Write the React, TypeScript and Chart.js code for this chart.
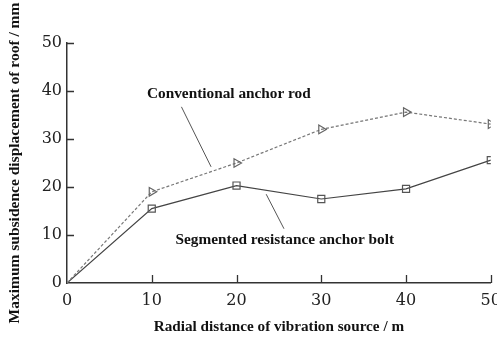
import React, { useEffect, useRef } from "react";
import { Chart, registerables } from "chart.js";

Chart.register(...registerables);

const distances = [0, 10, 20, 30, 40, 50];
const conventional = [0, 19, 25, 32, 35.6, 33.1];
const segmented = [0, 15.5, 20.3, 17.5, 19.6, 25.6];
const xTickValues = [10, 20, 30, 40, 50];
const yTickValues = [10, 20, 30, 40, 50];

const labelConventional = "Conventional anchor rod";
const labelSegmented = "Segmented resistance anchor bolt";
const xTitle = "Radial distance of vibration source / m";
const yTitle = "Maximum subsidence displacement of roof / mm";

// annotation anchors in data units
const convText = { x: 19.1, y: 39.3 };
const convLeader = [{ x: 13.5, y: 36.7 }, { x: 17.0, y: 24.2 }];
const segText = { x: 25.7, y: 9.0 };
const segLeader = [{ x: 23.5, y: 18.5 }, { x: 25.6, y: 11.3 }];

const serifBold = "bold 15.3px 'Liberation Serif', 'Times New Roman', serif";

const overlayPlugin = {
  id: "overlay",
  afterDraw(chart: any) {
    const { ctx } = chart;
    const xs = chart.scales.x;
    const ys = chart.scales.y;
    const area = chart.chartArea;
    ctx.save();
    // inward ticks
    ctx.strokeStyle = "#333";
    ctx.lineWidth = 1.3;
    ctx.beginPath();
    xTickValues.forEach((v) => {
      const px = Math.round(xs.getPixelForValue(v)) + 0.5;
      ctx.moveTo(px, area.bottom);
      ctx.lineTo(px, area.bottom - 8);
    });
    yTickValues.forEach((v) => {
      const py = Math.round(ys.getPixelForValue(v)) + 0.5;
      ctx.moveTo(area.left, py);
      ctx.lineTo(area.left + 7, py);
    });
    ctx.stroke();

    // leader lines
    ctx.strokeStyle = "#555";
    ctx.lineWidth = 1;
    ctx.beginPath();
    [convLeader, segLeader].forEach((seg) => {
      ctx.moveTo(xs.getPixelForValue(seg[0].x), ys.getPixelForValue(seg[0].y));
      ctx.lineTo(xs.getPixelForValue(seg[1].x), ys.getPixelForValue(seg[1].y));
    });
    ctx.stroke();

    // labels
    ctx.fillStyle = "#111";
    ctx.font = serifBold;
    ctx.textAlign = "center";
    ctx.textBaseline = "middle";
    ctx.fillText(labelConventional, xs.getPixelForValue(convText.x), ys.getPixelForValue(convText.y));
    ctx.fillText(labelSegmented, xs.getPixelForValue(segText.x), ys.getPixelForValue(segText.y));
    ctx.restore();
  },
};

export default function App() {
  const ref = useRef<HTMLCanvasElement | null>(null);

  useEffect(() => {
    if (!ref.current) return;
    const tickFont = { family: "'DejaVu Serif', serif", size: 16 };
    const xTitleFont = { family: "'Liberation Serif', 'Times New Roman', serif", size: 15.2, weight: "bold" as const };
    const yTitleFont = { family: "'Liberation Serif', 'Times New Roman', serif", size: 15.5, weight: "bold" as const };
    const chart = new Chart(ref.current, {
      type: "line",
      data: {
        datasets: [
          {
            label: labelConventional,
            data: distances.map((d, i) => ({ x: d, y: conventional[i] })),
            borderColor: "#777",
            backgroundColor: "rgba(255,255,255,0)",
            borderWidth: 1.2,
            borderDash: [3, 2],
            pointStyle: "triangle",
            rotation: 90,
            pointRadius: distances.map((d) => (d === 0 ? 0 : 5)),
            pointBorderColor: "#666",
            pointBorderWidth: 1.2,
            pointBackgroundColor: "rgba(255,255,255,0)",
            tension: 0,
          },
          {
            label: labelSegmented,
            data: distances.map((d, i) => ({ x: d, y: segmented[i] })),
            borderColor: "#444",
            backgroundColor: "rgba(255,255,255,0)",
            borderWidth: 1.2,
            pointStyle: "rect",
            pointRadius: distances.map((d) => (d === 0 ? 0 : 5)),
            pointBorderColor: "#555",
            pointBorderWidth: 1.2,
            pointBackgroundColor: "rgba(255,255,255,0)",
            tension: 0,
          },
        ],
      },
      options: {
        animation: false,
        responsive: true,
        maintainAspectRatio: false,
        layout: { padding: { top: 43, right: 4, bottom: 0, left: 0 } },
        plugins: { legend: { display: false }, tooltip: { enabled: false } },
        scales: {
          x: {
            type: "linear",
            min: 0,
            max: 50,
            ticks: { stepSize: 10, font: tickFont, color: "#222", padding: 8, maxRotation: 0 },
            grid: { display: false, drawTicks: false },
            border: { display: true, color: "#333", width: 1.5 },
            title: { display: true, text: xTitle, font: xTitleFont, color: "#111", padding: { top: 0, bottom: 2 } },
            afterFit: (s: any) => {
              s.height = 55;
              s.paddingLeft = 0;
              s.paddingRight = 0;
            },
          },
          y: {
            type: "linear",
            min: 0,
            max: 50,
            ticks: { stepSize: 10, font: tickFont, color: "#222", padding: 5 },
            grid: { display: false, drawTicks: false },
            border: { display: true, color: "#333", width: 1.5 },
            title: { display: true, text: yTitle, font: yTitleFont, color: "#111", padding: { top: 6, bottom: 0 } },
            afterFit: (s: any) => {
              s.width = 67;
              s.paddingTop = 0;
              s.paddingBottom = 0;
            },
          },
        },
      },
      plugins: [overlayPlugin],
    });
    return () => chart.destroy();
  }, []);

  return (
    <div style={{ position: "fixed", left: 0, top: 0, width: 497, height: 338, background: "#fff" }}>
      <canvas ref={ref} />
    </div>
  );
}
